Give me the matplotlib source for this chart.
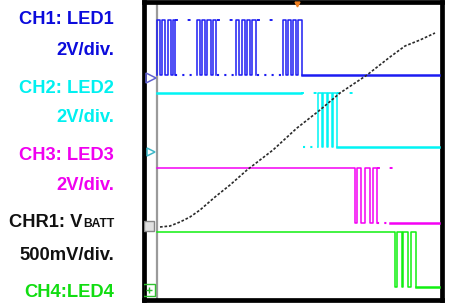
import matplotlib
matplotlib.use('Agg')
import matplotlib.pyplot as plt

W, H = 449, 303

# screen units: t runs left->right, y runs bottom->top (scope graticule)
ch1_high, ch1_low = 277, 222
ch1_groups = [[(11, 14), (16, 19), (22, 25), (27, 29)],
              [(51, 54), (56, 59), (61, 65), (67, 70)],
              [(90, 93), (96, 99), (101, 104), (106, 110)],
              [(137, 140), (142, 145), (147, 150), (152, 156)]]
ch1_solid_high = []
ch1_solid_low = [(156, 293)]
ch1_dot_high = [(29, 50), (71, 90), (111, 136)]
ch1_dot_low = [(29, 50), (71, 90), (111, 136)]

ch2_high, ch2_low = 204, 150
ch2_groups = [[(172, 176), (177, 181), (182, 186), (187, 191)]]
ch2_solid_high = [(11, 155)]
ch2_solid_low = [(191, 293)]
ch2_dot_high = [(155, 172), (191, 207)]
ch2_dot_low = [(157, 172)]

ch3_high, ch3_low = 129, 74
ch3_groups = [[(11, 209), (211, 215), (219, 224), (227, 231)]]
ch3_solid_high = []
ch3_solid_low = [(244, 293)]
ch3_dot_high = [(231, 247)]
ch3_dot_low = [(231, 244)]

ch4_high, ch4_low = 65, 10
ch4_groups = [[(11, 249), (251, 256), (257, 262), (265, 270)]]
ch4_solid_high = []
ch4_solid_low = [(270, 293)]
ch4_dot_high = []
ch4_dot_low = []

vb_t = [14, 24, 34, 44, 54, 69, 84, 101, 127, 151, 174, 194, 221, 244, 259, 274, 289]
vb_y = [70, 71, 75, 80, 87, 100, 112, 127, 147, 169, 187, 204, 222, 240, 251, 257, 264]

trig_t = 151
ref_t = 10.5

labels = ['CH1: LED1', '2V/div.', 'CH2: LED2', '2V/div.', 'CH3: LED3', '2V/div.',
          None, '500mV/div.', 'CH4:LED4']
label_colors = ['#0b0bdc', '#0b0bdc', '#00f0f0', '#00f0f0', '#f000f0', '#f000f0',
                '#111111', '#111111', '#11dd11']
label_base = [24, 55, 93, 122, 160, 190, 227, 260, 297]


def step_path(pulses, high, low, from_high=False):
    xs, ys = [], []
    for i, (r, f) in enumerate(pulses):
        if i == 0 and from_high:
            xs += [r, f, f]
            ys += [high, high, low]
        else:
            xs += [r, r, f, f]
            ys += [low, high, high, low]
    return xs, ys


fig = plt.figure(figsize=(W / 100, H / 100), dpi=100)
ax = fig.add_axes([144 / W, 3.5 / H, 297.5 / W, 297.5 / H])
ax.set_xlim(-2, 295.5)
ax.set_ylim(-2.5, 295)
ax.set_xticks([])
ax.set_yticks([])
for s in ax.spines.values():
    s.set_linewidth(3.4)
    s.set_color('black')

ax.axvline(ref_t, color='#9a9a9a', lw=1.6, zorder=1)

channels = [
    ('#1c1cf2', ch1_high, ch1_low, ch1_groups, False, ch1_solid_high, ch1_solid_low, ch1_dot_high, ch1_dot_low),
    ('#00f4f4', ch2_high, ch2_low, ch2_groups, False, ch2_solid_high, ch2_solid_low, ch2_dot_high, ch2_dot_low),
    ('#f400f4', ch3_high, ch3_low, ch3_groups, True, ch3_solid_high, ch3_solid_low, ch3_dot_high, ch3_dot_low),
    ('#10f010', ch4_high, ch4_low, ch4_groups, True, ch4_solid_high, ch4_solid_low, ch4_dot_high, ch4_dot_low),
]
for col, hi, lo, groups, fh, sh, sl, dh, dl in channels:
    for g in groups:
        xs, ys = step_path(g, hi, lo, fh)
        ax.plot(xs, ys, color=col, lw=1.1, zorder=3)
    for a, b in sh:
        ax.plot([a, b], [hi, hi], color=col, lw=1.8, zorder=3)
    for a, b in sl:
        ax.plot([a, b], [lo, lo], color=col, lw=1.8, zorder=3)
    for a, b in dh:
        ax.plot([a, b], [hi, hi], color=col, lw=1.4, ls=(0, (1.5, 5)), zorder=3)
    for a, b in dl:
        ax.plot([a, b], [lo, lo], color=col, lw=1.5, ls=(0, (1, 2.5)), zorder=3)

ax.plot(vb_t, vb_y, color='#2a2a2a', lw=1.2, ls=(0, (1.6, 1.1)), zorder=4)

# channel ground markers at the left edge
ax.plot(5, ch1_low - 3, marker='>', ms=7, mfc='none', mec='#6060d0', mew=1.1, zorder=5)
ax.plot(5, ch2_low - 5, marker='>', ms=6, mfc='none', mec='#40b8c8', mew=1.1, zorder=5)
ax.plot([-1, 6], [ch3_low - 7] * 2, color='#c040c0', lw=1.5, zorder=5)
ax.plot(3, vb_y[0] + 1, marker='s', ms=7, mfc='#e0e0e0', mec='#888888', mew=1, zorder=6)
ax.plot(3, ch4_low - 3, marker='s', ms=8, mfc='none', mec='#30c030', mew=1, zorder=5)
ax.plot(3, ch4_low - 3, marker='+', ms=4, mec='#30c030', mew=1, zorder=5)

ax.plot(trig_t, 293, marker='v', ms=3.5, color='#f08020', clip_on=False, zorder=6)

font = 'Liberation Sans'
fs = 13.2
for txt, c, yb in zip(labels, label_colors, label_base):
    if txt is None:
        continue
    fig.text(114 / W, 1 - yb / H, txt, color=c, fontsize=fs, fontweight='bold',
             family=font, ha='right', va='baseline')

sub = fig.text(114 / W, 1 - 227 / H, 'BATT', color='#111111', fontsize=fs * 0.66,
               fontweight='bold', family=font, ha='right', va='baseline')
r = fig.canvas.get_renderer()
x0 = sub.get_window_extent(r).x0
fig.text(x0 / W, 1 - 227 / H, 'CHR1: V', color='#111111', fontsize=fs,
         fontweight='bold', family=font, ha='right', va='baseline')

fig.savefig('out.png', dpi=100)
